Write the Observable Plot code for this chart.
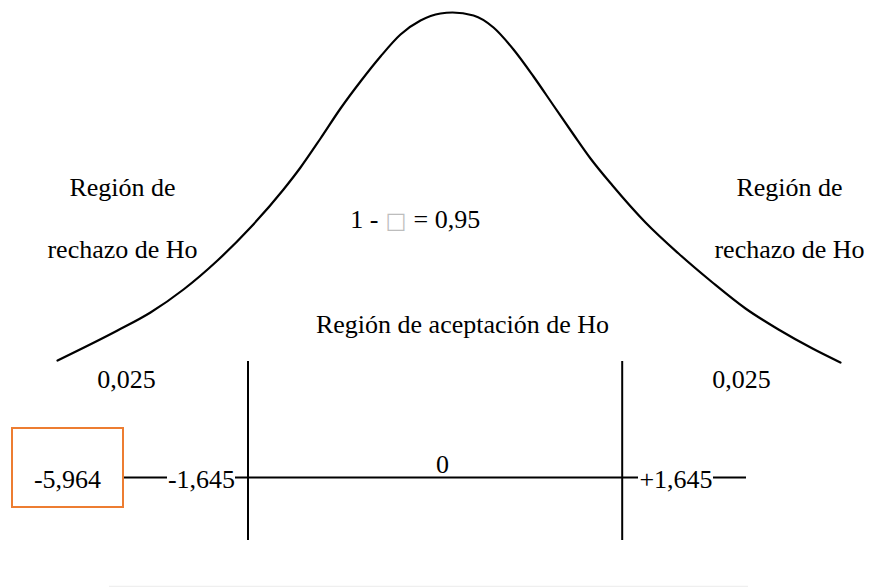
<!DOCTYPE html>
<html>
<head>
<meta charset="utf-8">
<script src="https://cdn.jsdelivr.net/npm/d3@7"></script>
<script src="https://cdn.jsdelivr.net/npm/@observablehq/plot@0.6"></script>
<style>
  html, body { margin: 0; padding: 0; background: #fff; }
  #chart svg text { font-family: "Liberation Serif", Tinos, "Times New Roman", "DejaVu Serif", serif; }
  #chart svg g.sq text { font-family: "DejaVu Sans", sans-serif; }
</style>
</head>
<body>
<div id="chart"></div>
<script>
// Bell curve outline (diagram units, y grows downward)
const curveX = [57, 117, 150, 183, 217, 250, 283, 300, 320, 340, 360, 380, 400, 420, 440, 452, 473, 493, 513, 533, 553, 573, 590, 612, 645, 678, 712, 745, 778, 812, 840];
const curveY = [360, 330, 312, 289, 260, 227, 189, 167, 138, 108, 81, 56, 34, 20, 13, 12, 15, 27, 49, 76, 105, 134, 158, 185, 222, 253, 282, 308, 329, 348, 362];

// Critical-value vertical lines
const critX = [247.5, 621.7];
const critTop = 361;
const critBottom = 540;

// Horizontal axis segments
const axisY = 477;
const axisX1 = [123, 235, 713];
const axisX2 = [167, 638, 746];

// Axis labels
const axisLabels = ["-5,964", "-1,645", "0", "+1,645"];
const axisLabelX = [67, 201, 442, 675.5];
const axisLabelY = [487, 487, 472, 487];

// Region labels
const regionLabels = ["Región de", "rechazo de Ho", "Región de", "rechazo de Ho", "Región de aceptación de Ho", "0,025", "0,025"];
const regionLabelX = [122, 122, 789, 789, 462, 126, 741];
const regionLabelY = [195, 257, 195, 257, 332, 387, 387];

// Confidence label "1 - α = 0,95" (α shown as missing glyph)
const confParts = ["1 -", "□", "= 0,95"];
const confX = [378, 395.5, 413];
const confY = 227;

// Highlight box around test statistic
const boxX1 = 12, boxX2 = 123, boxY1 = 428, boxY2 = 507;

const W = 875, H = 587;

const curve = curveX.map((x, i) => ({x, y: curveY[i]}));
const crit = critX.map(x => ({x, y1: critTop, y2: critBottom}));
const axisSegs = axisX1.map((x1, i) => ({x1, x2: axisX2[i], y: axisY}));
const axisLab = axisLabels.map((t, i) => ({t, x: axisLabelX[i], y: axisLabelY[i]}));
const regionLab = regionLabels.map((t, i) => ({t, x: regionLabelX[i], y: regionLabelY[i]}));

const chart = Plot.plot({
  width: W,
  height: H,
  margin: 0,
  style: {background: "#fff"},
  x: {domain: [0, W], range: [0, W], axis: null},
  y: {domain: [0, H], range: [0, H], axis: null},
  marks: [
    Plot.ruleY([586], {x1: 109, x2: 748, stroke: "#efefef", strokeWidth: 1.5}),
    Plot.line(curve, {x: "x", y: "y", curve: "monotone-x", stroke: "#000", strokeWidth: 2.2}),
    Plot.ruleX(crit, {x: "x", y1: "y1", y2: "y2", stroke: "#000", strokeWidth: 2}),
    Plot.ruleY(axisSegs, {y: "y", x1: "x1", x2: "x2", stroke: "#000", strokeWidth: 2.2}),
    Plot.rect([{x1: boxX1, x2: boxX2, y1: boxY1, y2: boxY2}], {x1: "x1", x2: "x2", y1: "y1", y2: "y2", fill: "none", stroke: "#ED7D31", strokeWidth: 2}),
    Plot.text(axisLab, {x: "x", y: "y", text: "t", fontSize: 26, fill: "#000", lineAnchor: "bottom", textAnchor: "middle"}),
    Plot.text(regionLab, {x: "x", y: "y", text: "t", fontSize: 26, fill: "#000", lineAnchor: "bottom", textAnchor: "middle"}),
    Plot.text([confParts[0]], {x: () => confX[0], y: () => confY, text: d => d, fontSize: 26, fill: "#000", lineAnchor: "bottom", textAnchor: "end"}),
    Plot.text([confParts[1]], {x: () => confX[1], y: () => confY, text: d => d, fontSize: 22, fill: "#bdbdbd", lineAnchor: "bottom", textAnchor: "middle", className: "sq"}),
    Plot.text([confParts[2]], {x: () => confX[2], y: () => confY, text: d => d, fontSize: 26, fill: "#000", lineAnchor: "bottom", textAnchor: "start"})
  ]
});
document.getElementById("chart").appendChild(chart);
</script>
</body>
</html>
